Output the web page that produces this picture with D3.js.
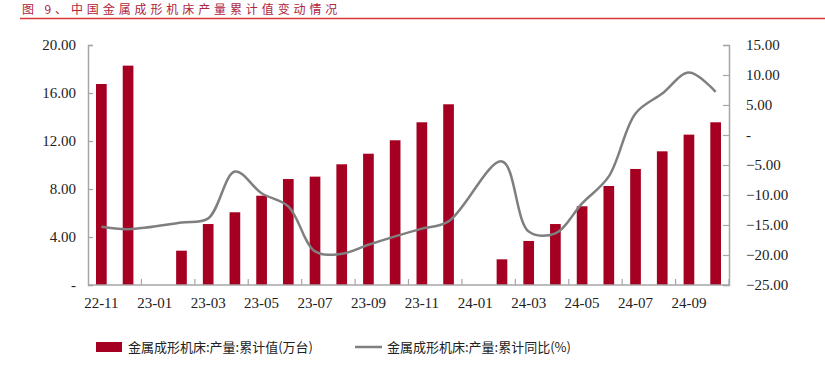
<!DOCTYPE html>
<html><head><meta charset="utf-8">
<script src="https://cdn.jsdelivr.net/npm/d3@7"></script>
<style>
body{margin:0;background:#fff;}
svg{display:block;}
</style></head>
<body><svg id="c" width="825" height="371"></svg>
<script>
const title = "图 9、中国金属成形机床产量累计值变动情况";
const categories = ["22-11","22-12","23-01","23-02","23-03","23-04","23-05","23-06","23-07","23-08","23-09","23-10","23-11","23-12","24-01","24-02","24-03","24-04","24-05","24-06","24-07","24-08","24-09","24-10"];
const xTickLabels = ["22-11","23-01","23-03","23-05","23-07","23-09","23-11","24-01","24-03","24-05","24-07","24-09"];
const cumValue = [16.75,18.28,null,2.86,5.08,6.06,7.44,8.83,9.03,10.06,10.94,12.06,13.56,15.06,null,2.14,3.67,5.08,6.56,8.25,9.67,11.14,12.53,13.56];
const cumYoY = [-15.3,-15.7,null,-14.6,-13.9,-6.1,-9.7,-11.9,-19.4,-19.8,-18.3,-16.9,-15.6,-14.4,null,-4.4,-16.1,-16.4,-11.4,-6.9,3.6,6.9,10.4,7.2];
const leftTicks = [0,4,8,12,16,20];
const rightTicks = [-25,-20,-15,-10,-5,0,5,10,15];
const seriesNames = ["金属成形机床:产量:累计值(万台)","金属成形机床:产量:累计同比(%)"];

const svg = d3.select("#c");
const L = 88, R = 729, T = 45, B = 285;
const numFont = "'Liberation Serif','Times New Roman',serif";
const cjkFont = "'Noto Sans CJK SC','Noto Sans CJK JP',sans-serif";
const axisColor = "#a6a6a6";
const barColor = "#a50021";
const lineColor = "#7f7f7f";

// title
svg.append("text").attr("x", 22).attr("y", 14).attr("fill", "#b0243c")
  .attr("font-family", cjkFont).attr("font-size", 12).attr("letter-spacing", 3.9)
  .text(title);
svg.append("line").attr("x1", 20).attr("x2", 825).attr("y1", 18.5).attr("y2", 18.5)
  .attr("stroke", "#d9363a").attr("stroke-width", 1.5);

const x = d3.scaleBand().domain(categories).range([L, R]).paddingInner(0).paddingOuter(0);
const yL = d3.scaleLinear().domain([0, 20]).range([B, T]);
const yR = d3.scaleLinear().domain([-25, 15]).range([B, T]);

// bars
const bw = x.bandwidth() * 0.4;
svg.append("g").selectAll("rect")
  .data(categories.map((c, i) => ({c, v: cumValue[i]})).filter(d => d.v != null))
  .join("rect")
  .attr("x", d => x(d.c) + x.bandwidth() / 2 - bw / 2)
  .attr("width", bw)
  .attr("y", d => yL(d.v))
  .attr("height", d => yL(0) - yL(d.v))
  .attr("fill", barColor);

// line
const pts = categories.map((c, i) => ({c, v: cumYoY[i]})).filter(d => d.v != null);
const line = d3.line().x(d => x(d.c) + x.bandwidth() / 2).y(d => yR(d.v)).curve(d3.curveCatmullRom.alpha(0.5));
svg.append("path").datum(pts).attr("d", line).attr("fill", "none")
  .attr("stroke", lineColor).attr("stroke-width", 2.5).attr("stroke-linejoin", "round");

// left axis
const fmt = v => v === 0 ? "-" : d3.format(".2f")(v);
const gL = svg.append("g").attr("transform", `translate(${L},0)`)
  .call(d3.axisLeft(yL).tickValues(leftTicks).tickSize(-5).tickPadding(12).tickFormat(fmt));
gL.select(".domain").attr("stroke", axisColor).attr("stroke-width", 1.5);
gL.selectAll(".tick line").attr("stroke", axisColor).attr("stroke-width", 1.2);
gL.selectAll(".tick text").attr("font-family", numFont).attr("font-size", 15).attr("fill", "#222");

// right axis
const gR = svg.append("g").attr("transform", `translate(${R},0)`)
  .call(d3.axisRight(yR).tickValues(rightTicks).tickSize(-6).tickPadding(17).tickFormat(fmt));
gR.select(".domain").attr("stroke", axisColor).attr("stroke-width", 1.5);
gR.selectAll(".tick line").attr("stroke", axisColor).attr("stroke-width", 1.2);
gR.selectAll(".tick text").attr("font-family", numFont).attr("font-size", 15).attr("fill", "#222");

// x axis
const gX = svg.append("g").attr("transform", `translate(0,${B})`);
gX.append("line").attr("x1", L).attr("x2", R).attr("stroke", axisColor).attr("stroke-width", 1.5);
const tickIdx = d3.range(2, categories.length + 1, 2);
gX.selectAll("line.t").data(tickIdx).join("line").attr("class", "t")
  .attr("x1", i => L + i * x.step()).attr("x2", i => L + i * x.step())
  .attr("y1", 0).attr("y2", -6).attr("stroke", axisColor).attr("stroke-width", 1.2);
gX.selectAll("text").data(xTickLabels).join("text")
  .attr("x", d => x(d) + x.bandwidth() / 2).attr("y", 23)
  .attr("text-anchor", "middle").attr("font-family", numFont).attr("font-size", 15).attr("fill", "#222")
  .text(d => d);

// legend
const lg = svg.append("g");
lg.append("rect").attr("x", 96).attr("y", 342).attr("width", 26).attr("height", 10).attr("fill", barColor);
lg.append("text").attr("x", 128).attr("y", 352).attr("font-family", cjkFont).attr("font-size", 13).attr("fill", "#222").text(seriesNames[0]);
lg.append("line").attr("x1", 355).attr("x2", 382).attr("y1", 347).attr("y2", 347).attr("stroke", lineColor).attr("stroke-width", 2.5);
lg.append("text").attr("x", 387).attr("y", 352).attr("font-family", cjkFont).attr("font-size", 13).attr("fill", "#222").text(seriesNames[1]);
</script></body></html>
